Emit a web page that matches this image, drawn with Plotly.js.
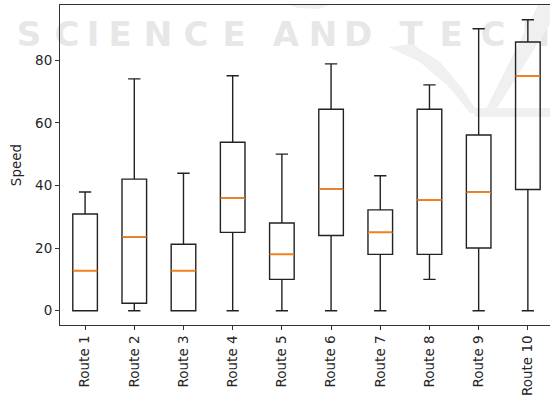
<!DOCTYPE html>
<html>
<head>
<meta charset="utf-8">
<script src="https://cdn.plot.ly/plotly-3.0.1.min.js"></script>
<style>
html,body{margin:0;padding:0;background:#fff;}
#chart{width:550px;height:403px;}
</style>
</head>
<body>
<div id="chart"></div>
<script>
// ---- data ----
const routes = ['Route 1','Route 2','Route 3','Route 4','Route 5','Route 6','Route 7','Route 8','Route 9','Route 10'];
const lowerWhisker = [0, 0, 0, 0, 0, 0, 0, 10, 0, 0];
const q1Values = [0, 2.4, 0, 25, 10, 24, 18, 18, 20, 38.7];
const medianValues = [12.8, 23.6, 12.8, 35.9, 18, 38.8, 25, 35.4, 37.8, 74.9];
const q3Values = [30.9, 42, 21.2, 53.8, 28, 64.3, 32.2, 64.3, 56.1, 85.8];
const upperWhisker = [37.9, 74, 43.9, 75, 50, 78.8, 43.1, 72.1, 90, 92.9];
const yTicks = [0, 20, 40, 60, 80];
const watermarkWords = ['SCIENCE', 'AND', 'TECH'];

const positions = routes.map((_, i) => i);

// ---- layout geometry ----
const W = 550, H = 403;
const M = {l: 60, r: 0, t: 5, b: 78};
const plotW = W - M.l - M.r, plotH = H - M.t - M.b;
const fx = px => (px - M.l) / plotW;
const fy = py => (H - M.b - py) / plotH;

const boxes = {
  type: 'box',
  x: positions,
  q1: q1Values,
  median: medianValues,
  q3: q3Values,
  lowerfence: lowerWhisker,
  upperfence: upperWhisker,
  width: 0.5,
  whiskerwidth: 0.5,
  line: {color: '#222', width: 1.4},
  fillcolor: 'rgba(0,0,0,0)',
  boxpoints: false,
  hoverinfo: 'skip',
  showlegend: false
};
const medians = {
  type: 'box',
  x: positions,
  q1: medianValues,
  median: medianValues,
  q3: medianValues,
  lowerfence: medianValues,
  upperfence: medianValues,
  width: 0.5,
  whiskerwidth: 0,
  line: {color: '#ff7f0e', width: 1.6},
  fillcolor: 'rgba(0,0,0,0)',
  boxpoints: false,
  hoverinfo: 'skip',
  showlegend: false
};

// ---- faint background watermark (decorative) ----
const letterCenters = [
  [29, 67, 93, 120, 158, 196, 234],
  [286, 323, 358],
  [411, 451, 493, 536]
];
const shapes = [];
const wmColor = '#e7e7e7';
watermarkWords.forEach((word, wi) => {
  word.split('').forEach((ch, ci) => {
    const cx = letterCenters[wi][ci];
    const half = ch === 'I' ? 5 : 13;
    shapes.push({
      type: 'rect', layer: 'below', xref: 'paper', yref: 'paper',
      x0: fx(cx - half), x1: fx(cx + half), y0: fy(44), y1: fy(19),
      line: {width: 0}, fillcolor: 'rgba(0,0,0,0)',
      label: {text: '<b>' + ch + '</b>', textposition: 'middle center',
              font: {family: 'DejaVu Sans', size: 34, color: wmColor}}
    });
  });
});
function pth(pts) {
  return 'M ' + pts.map(p => fx(p[0]).toFixed(4) + ',' + fy(p[1]).toFixed(4)).join(' L ') + ' Z';
}
const logoColor = '#f0f0f0';
shapes.push({type: 'path', layer: 'below', xref: 'paper', yref: 'paper',
  path: pth([[388, 47], [412, 44], [440, 62], [462, 88], [478, 113], [470, 113], [448, 86], [420, 62]]),
  fillcolor: logoColor, line: {width: 0}});
shapes.push({type: 'path', layer: 'below', xref: 'paper', yref: 'paper',
  path: pth([[538, 5], [550, 5], [550, 24], [494, 113], [484, 113]]),
  fillcolor: logoColor, line: {width: 0}});
shapes.push({type: 'path', layer: 'below', xref: 'paper', yref: 'paper',
  path: pth([[470, 108], [550, 108], [550, 117], [476, 117]]),
  fillcolor: logoColor, line: {width: 0}});
shapes.push({type: 'path', layer: 'below', xref: 'paper', yref: 'paper',
  path: pth([[288, 5], [330, 5], [318, 9], [298, 8]]),
  fillcolor: logoColor, line: {width: 0}});

const tickFont = {family: 'DejaVu Sans', size: 13.5, color: '#262626'};

const layout = {
  width: W, height: H,
  margin: M,
  paper_bgcolor: '#fff',
  plot_bgcolor: 'rgba(0,0,0,0)',
  boxmode: 'overlay',
  showlegend: false,
  xaxis: {
    range: [-0.51, 9.45],
    tickmode: 'array', tickvals: positions, ticktext: routes,
    tickangle: -90,
    ticks: 'outside', ticklen: 4, tickwidth: 1, tickcolor: '#333',
    showline: true, linecolor: '#333', linewidth: 1, mirror: true,
    showgrid: false, zeroline: false,
    tickfont: tickFont
  },
  yaxis: {
    range: [-4.56, 97.6],
    tickmode: 'array', tickvals: yTicks, ticktext: yTicks.map(String),
    ticks: 'outside', ticklen: 4, tickwidth: 1, tickcolor: '#333',
    showline: true, linecolor: '#333', linewidth: 1, mirror: false,
    showgrid: false, zeroline: false,
    tickfont: tickFont,
    title: {text: 'Speed', font: {family: 'DejaVu Sans', size: 13.5, color: '#262626'}, standoff: 10}
  },
  shapes: shapes
};

Plotly.newPlot('chart', [boxes, medians], layout, {staticPlot: true, displayModeBar: false});
</script>
</body>
</html>
